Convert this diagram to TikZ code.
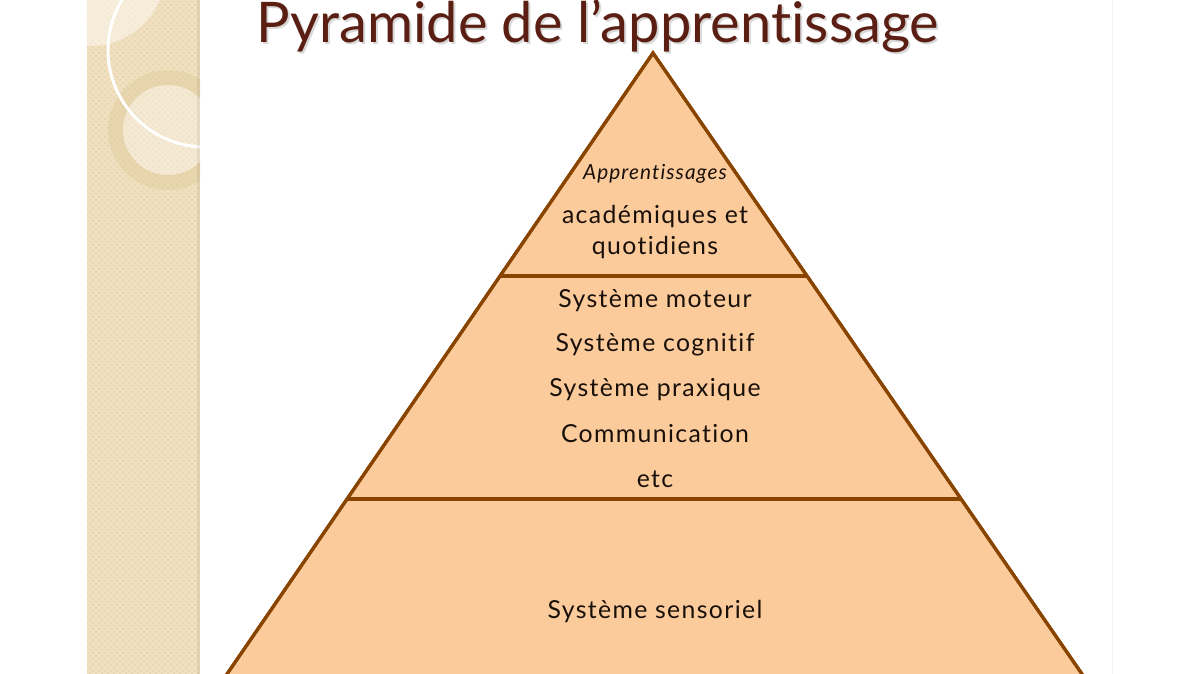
\documentclass[tikz,border=0pt]{standalone}
\usepackage{fontspec}
\setmainfont{Lato}[Ligatures={NoCommon}]
\usetikzlibrary{patterns}
\definecolor{stripbg}{HTML}{F0E0BF}
\definecolor{stripdot}{HTML}{E6D2AA}
\definecolor{ringc}{HTML}{E2CDA0}
\definecolor{pyrfill}{HTML}{FBCB9C}
\definecolor{pyrline}{HTML}{894400}
\definecolor{titlec}{HTML}{5A1E12}
\definecolor{textc}{HTML}{1A100A}
\tikzset{
  layer/.style={draw=pyrline, line width=1.6pt, fill=pyrfill, line join=miter},
  divider/.style={draw=pyrline, line width=1.6pt},
  lbl/.style={text=textc, font=\fontsize{12.4}{14}\selectfont\addfontfeatures{LetterSpace=5.5}, inner sep=0pt, anchor=center},
  ttl/.style={text=titlec, font=\fontsize{28}{30}\selectfont, inner sep=0pt, anchor=base}
}
\begin{document}
\begin{tikzpicture}[x=0.5pt,y=-0.5pt]
\useasboundingbox (0,0) rectangle (1200,674);
\clip (0,0) rectangle (1200,674);
\fill[white] (0,0) rectangle (1200,674);
% slide edge
\draw[black!5, line width=0.5pt] (1112,0) -- (1112,674);
% decorative strip
\begin{scope}
\clip (87,0) rectangle (200,674);
\fill[stripbg] (87,0) rectangle (200,674);
\fill[pattern=crosshatch dots, pattern color=stripdot] (87,0) rectangle (200,674);
\fill[white, opacity=0.45] (90,-30) circle[radius=76];
\fill[ringc, opacity=0.5, even odd rule] (168,130) circle[radius=60] (168,130) circle[radius=45];
\fill[white, opacity=0.3] (168,130) circle[radius=45];
\draw[white, line width=1.5pt] (205,50) circle[radius=97];
\fill[black, opacity=0.06] (197,0) rectangle (200,674);
\end{scope}
% title
\node[ttl, text=black!25, opacity=0.6] at (600,45) {Pyramide de l’apprentissage};
\node[ttl] (title) at (598,43) {Pyramide de l’apprentissage};
% pyramid
\coordinate (apex) at (653,53);
\coordinate (bl) at (213.3,694);
\coordinate (br) at (1095.8,694);
\path[layer] (apex) -- (bl) -- (br) -- cycle;
\coordinate (d1l) at (500,276);
\coordinate (d1r) at (807,276);
\coordinate (d2l) at (347,499);
\coordinate (d2r) at (961,499);
\draw[divider] (d1l) -- (d1r);
\draw[divider] (d2l) -- (d2r);
\draw[pyrline, line width=1.6pt, line join=miter] (bl) -- (apex) -- (br);
% labels
\node[lbl, font=\fontsize{10.4}{12}\selectfont\itshape\addfontfeatures{LetterSpace=5}] (t1) at (655,174) {Apprentissages};
\node[lbl] (t2) at (655,216) {académiques et};
\node[lbl] (t3) at (655,247) {quotidiens};
\node[lbl] (m1) at (655,301) {Système moteur};
\node[lbl] (m2) at (655,345) {Système cognitif};
\node[lbl] (m3) at (655,390) {Système praxique};
\node[lbl] (m4) at (655,434) {Communication};
\node[lbl] (m5) at (655,479) {etc};
\node[lbl] (b1) at (655,611) {Système sensoriel};
\end{tikzpicture}
\end{document}
